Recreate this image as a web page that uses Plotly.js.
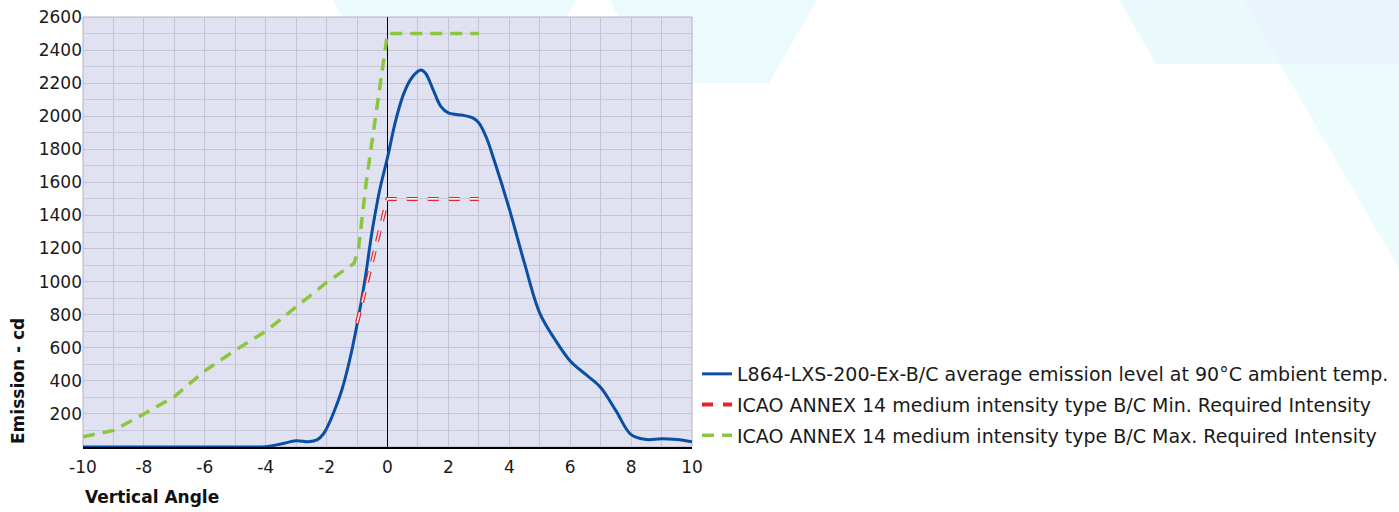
<!DOCTYPE html>
<html>
<head>
<meta charset="utf-8">
<script src="https://cdn.plot.ly/plotly-3.0.1.min.js"></script>
<style>html,body{margin:0;padding:0;background:#fff;}#chart{width:1399px;height:512px;}</style>
</head>
<body>
<div id="chart"></div>
<script>
// Series data
const seriesNames = [
  "L864-LXS-200-Ex-B/C average emission level at 90°C ambient temp.",
  "ICAO ANNEX 14 medium intensity type B/C Min. Required Intensity",
  "ICAO ANNEX 14 medium intensity type B/C Max. Required Intensity"
];
const avgX = [-10,-9,-8,-7,-6,-5,-4.5,-4,-3.5,-3,-2.6,-2.3,-2.1,-1.9,-1.7,-1.5,-1.25,-1,-0.75,-0.5,-0.25,0,0.25,0.5,0.75,1,1.1,1.25,1.5,1.75,2,2.5,2.8,3,3.25,3.5,4,4.5,5,5.5,6,6.5,7,7.5,8,8.5,9,9.5,10];
const avgY = [0,0,0,0,0,0,0,2,18,38,32,45,80,150,240,345,520,740,1000,1310,1560,1750,1960,2120,2220,2272,2280,2260,2160,2060,2020,2005,1990,1960,1870,1735,1440,1110,810,650,520,440,360,220,75,45,50,45,32];
const minX = [-1,0,3];
const minY = [750,1500,1500];
const maxX = [-10,-9,-8,-7,-6,-5,-4,-3,-2,-1.1,-0.95,-0.7,-0.4,-0.2,0,3];
const maxY = [62,100,200,305,460,585,700,850,995,1110,1200,1600,2000,2250,2500,2500];
const xTicks = [-10,-8,-6,-4,-2,0,2,4,6,8,10];
const yTicks = [200,400,600,800,1000,1200,1400,1600,1800,2000,2200,2400,2600];
const xTitle = "Vertical Angle";
const yTitle = "Emission - cd";

const FONT = "DejaVu Sans, sans-serif";
const plotBg = "#e0e2f1";

const traces = [
  {x: avgX, y: avgY, name: seriesNames[0], type: "scatter", mode: "lines",
   line: {color: "#0b4fa3", width: 3, shape: "spline", smoothing: 1}, legendgroup: "a"},
  {x: minX, y: minY, name: seriesNames[1], type: "scatter", mode: "lines",
   line: {color: "#e3242b", width: 4, dash: "11px,10px"}, legendgroup: "b"},
  {x: minX, y: minY, name: seriesNames[1], type: "scatter", mode: "lines", showlegend: false,
   line: {color: "#fbeef2", width: 1.6, dash: "11px,10px"}, legendgroup: "b", hoverinfo: "skip"},
  {x: maxX, y: maxY, name: seriesNames[2], type: "scatter", mode: "lines",
   line: {color: "#8cc63f", width: 3.5, dash: "12px,8px"}, legendgroup: "c"}
];

// convert pixel coords of decoration to paper coords
const L = 83, R = 692, T = 17, B = 447;
function px(x){ return (x - L) / (R - L); }
function py(y){ return (B - y) / (B - T); }
function poly(pts){ return "M" + pts.map(p => px(p[0]) + "," + py(p[1])).join(" L") + " Z"; }

const shapes = [
  {type: "path", xref: "paper", yref: "paper", layer: "below", line: {width: 0}, fillcolor: "#ebfafc",
   path: poly([[333,0],[576,0],[544,60],[364,60]])},
  {type: "path", xref: "paper", yref: "paper", layer: "below", line: {width: 0}, fillcolor: "#ebfafc",
   path: poly([[609,0],[817,0],[769,83],[658,83]])},
  {type: "path", xref: "paper", yref: "paper", layer: "below", line: {width: 0}, fillcolor: "#eaf9fb",
   path: poly([[1119,0],[1243,0],[1280,64],[1156,64]])},
  {type: "path", xref: "paper", yref: "paper", layer: "below", line: {width: 0}, fillcolor: "#eaf5fb",
   path: poly([[1243,0],[1399,0],[1399,64],[1280,64]])},
  {type: "path", xref: "paper", yref: "paper", layer: "below", line: {width: 0}, fillcolor: "#ecfbfc",
   path: poly([[1280,64],[1399,64],[1399,268]])},
  {type: "rect", xref: "paper", yref: "paper", layer: "below", x0: 0, x1: 1, y0: 0, y1: 1,
   fillcolor: plotBg, line: {color: "#b4b4bc", width: 1}}
];

const layout = {
  width: 1399, height: 512,
  margin: {l: L, r: 1399 - R, t: T, b: 512 - B, pad: 0, autoexpand: false},
  paper_bgcolor: "#ffffff",
  plot_bgcolor: "rgba(0,0,0,0)",
  font: {family: FONT, size: 17, color: "#1a1a1a"},
  showlegend: true,
  legend: {x: px(697), xanchor: "left", y: py(455), yanchor: "bottom", bgcolor: "rgba(0,0,0,0)",
           font: {family: FONT, size: 19, color: "#1a1a1a"}, itemwidth: 30, tracegroupgap: 3, traceorder: "grouped"},
  xaxis: {range: [-10, 10], tickvals: xTicks, ticktext: xTicks.map(String), showgrid: true, gridcolor: "#c3c4d2", gridwidth: 1,
          minor: {dtick: 1, showgrid: true, gridcolor: "#c3c4d2", gridwidth: 1},
          zeroline: true, zerolinecolor: "#000", zerolinewidth: 1.2,
          showline: true, linecolor: "#000", linewidth: 1.5, ticks: "", ticklen: 0, ticklabelstandoff: 4,
          tickfont: {family: FONT, size: 17, color: "#1a1a1a"}, fixedrange: true},
  yaxis: {range: [0, 2600], tickvals: yTicks, ticktext: yTicks.map(String), showgrid: true, gridcolor: "#c3c4d2", gridwidth: 1,
          minor: {dtick: 100, showgrid: true, gridcolor: "#c9cad8", gridwidth: 1},
          zeroline: false, showline: false, ticks: "", ticklen: 0,
          tickfont: {family: FONT, size: 17, color: "#1a1a1a"}, fixedrange: true},
  shapes: shapes,
  annotations: [
    {text: "<b>" + xTitle + "</b>", xref: "paper", yref: "paper", x: 0, y: py(497), xanchor: "left", yanchor: "middle",
     showarrow: false, font: {family: FONT, size: 17, color: "#111"}},
    {text: "<b>" + yTitle + "</b>", xref: "paper", yref: "paper", x: px(18), y: py(446), xanchor: "center", yanchor: "bottom",
     textangle: -90, showarrow: false, font: {family: FONT, size: 17, color: "#111"}}
  ]
};

Plotly.newPlot("chart", traces, layout, {displayModeBar: false, staticPlot: true});
</script>
</body>
</html>
